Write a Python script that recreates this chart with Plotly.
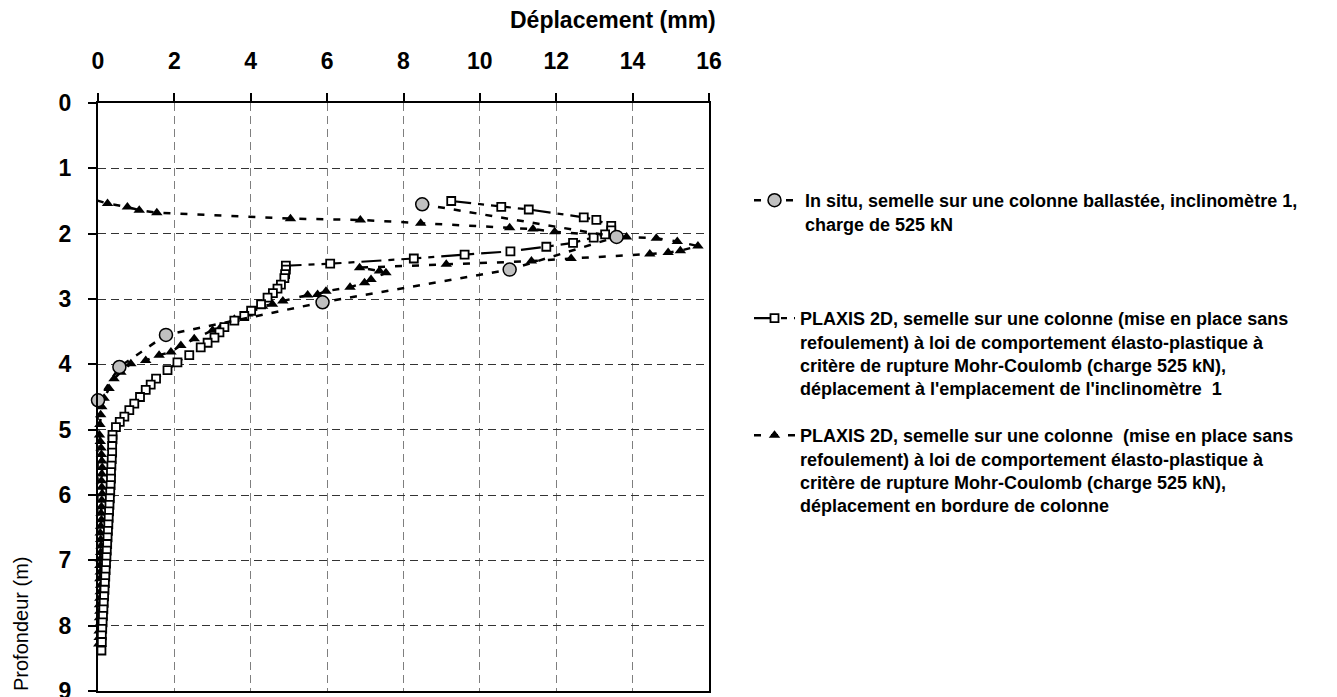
import plotly.graph_objects as go

# In situ, inclinomètre 1 (charge 525 kN)
insitu_depth = [1.55, 2.05, 2.55, 3.05, 3.55, 4.04, 4.55, 5.05, 5.55, 6.05, 6.55, 7.05, 7.55, 8.05, 8.55]
insitu_disp = [8.49, 13.58, 10.78, 5.88, 1.78, 0.56, 0.0, -0.02, -0.01, -0.02, -0.03, -0.03, -0.03, -0.04, -0.03]

# PLAXIS 2D, emplacement de l'inclinomètre 1
sq_depth = [1.50, 1.59, 1.63, 1.75, 1.79, 1.88, 1.95, 2.01, 2.06, 2.14,
            2.20, 2.27, 2.32, 2.38, 2.46, 2.49, 2.55, 2.62, 2.68, 2.78,
            2.84, 2.91, 2.98, 3.08, 3.18, 3.26, 3.33, 3.43, 3.51, 3.59,
            3.67, 3.74, 3.86, 3.97, 4.09, 4.22, 4.31, 4.39, 4.50, 4.60,
            4.70, 4.80, 4.88, 4.96, 5.08, 5.15, 5.25, 5.35, 5.45, 5.55,
            5.65, 5.75, 5.85, 5.95, 6.05, 6.15, 6.25, 6.35, 6.45, 6.55,
            6.65, 6.75, 6.85, 6.95, 7.05, 7.15, 7.25, 7.35, 7.45, 7.55,
            7.65, 7.75, 7.85, 7.95, 8.05, 8.15, 8.25, 8.38]
sq_disp = [9.25, 10.56, 11.28, 12.72, 13.05, 13.44, 13.44, 13.28, 12.98, 12.44,
           11.74, 10.80, 9.60, 8.27, 6.08, 4.92, 4.92, 4.90, 4.88, 4.79,
           4.70, 4.58, 4.44, 4.27, 4.01, 3.83, 3.57, 3.31, 3.18, 3.05,
           2.87, 2.69, 2.39, 2.08, 1.82, 1.52, 1.38, 1.25, 1.10, 0.95,
           0.82, 0.69, 0.57, 0.47, 0.38, 0.38, 0.37, 0.37, 0.36, 0.35,
           0.34, 0.34, 0.33, 0.32, 0.31, 0.30, 0.29, 0.28, 0.27, 0.26,
           0.25, 0.24, 0.23, 0.22, 0.21, 0.20, 0.19, 0.18, 0.17, 0.16,
           0.15, 0.14, 0.13, 0.12, 0.11, 0.10, 0.10, 0.09]

# PLAXIS 2D, bordure de colonne
tri_depth = [1.49, 1.54, 1.59, 1.64, 1.68, 1.77, 1.79, 1.84, 1.91, 1.93,
             1.97, 2.05, 2.07, 2.12, 2.19, 2.26, 2.29, 2.31, 2.38, 2.42,
             2.47, 2.52, 2.57, 2.60, 2.70, 2.75, 2.82, 2.88, 2.93, 2.94,
             3.03, 3.08, 3.11, 3.23, 3.31, 3.43, 3.48, 3.61, 3.71, 3.81,
             3.86, 3.94, 3.99, 4.12, 4.22, 4.37, 4.52, 4.65, 4.77, 4.92,
             5.08, 5.18, 5.28, 5.38, 5.48, 5.58, 5.68, 5.78, 5.88, 5.98,
             6.08, 6.18, 6.28, 6.38, 6.48, 6.58, 6.68, 6.78, 6.88, 6.98,
             7.08, 7.18, 7.28, 7.38, 7.48, 7.58, 7.68, 7.78, 7.88, 7.98,
             8.08, 8.18, 8.28]
tri_disp = [-0.03, 0.25, 0.77, 1.08, 1.54, 5.04, 6.87, 8.45, 10.78, 11.39,
            11.96, 13.84, 14.62, 15.17, 15.71, 15.25, 14.93, 14.45, 12.39, 11.35,
            9.12, 6.85, 7.37, 7.54, 7.15, 6.98, 6.60, 5.97, 5.75, 5.49,
            4.84, 4.57, 4.31, 3.92, 3.57, 3.22, 3.00, 2.52, 2.17, 1.91,
            1.60, 1.25, 0.86, 0.60, 0.42, 0.29, 0.16, 0.10, 0.07, 0.05,
            0.04, 0.06, 0.08, 0.09, 0.10, 0.11, 0.10, 0.09, 0.10, 0.11,
            0.10, 0.09, 0.08, 0.09, 0.07, 0.06, 0.07, 0.08, 0.07, 0.06,
            0.05, 0.06, 0.05, 0.07, 0.06, 0.05, 0.04, 0.05, 0.04, 0.04,
            0.03, 0.03, 0.02]

name_insitu = ("\u00a0In situ, semelle sur une colonne ballastée, inclinomètre 1,<br>"
               "\u00a0charge de 525 kN")
name_sq = ("PLAXIS 2D, semelle sur une colonne (mise en place sans<br>"
           "refoulement) à loi de comportement élasto-plastique à<br>"
           "critère de rupture Mohr-Coulomb (charge 525 kN),<br>"
           "déplacement à l'emplacement de l'inclinomètre  1")
name_tri = ("PLAXIS 2D, semelle sur une colonne  (mise en place sans<br>"
            "refoulement) à loi de comportement élasto-plastique à<br>"
            "critère de rupture Mohr-Coulomb (charge 525 kN),<br>"
            "déplacement en bordure de colonne")

W, H = 1337, 697
ML, MR, MT, MB = 90, 636, 95, 14
PW, PH = W - ML - MR, H - MT - MB

fig = go.Figure()
fig.add_trace(go.Scatter(
    x=tri_disp, y=tri_depth, name=name_tri, mode='lines+markers',
    line=dict(color='black', width=2.5, dash='7px,10px'),
    marker=dict(symbol='triangle-up', size=10, color='black'),
    legend='legend3', showlegend=True, cliponaxis=False,
))
fig.add_trace(go.Scatter(
    x=sq_disp, y=sq_depth, name=name_sq, mode='lines+markers',
    line=dict(color='black', width=2.2, dash='20px,7px,6px,7px'),
    marker=dict(symbol='square', size=8, color='white', line=dict(color='black', width=1.8)),
    legend='legend2', showlegend=True, cliponaxis=False,
))
fig.add_trace(go.Scatter(
    x=insitu_disp, y=insitu_depth, name=name_insitu, mode='lines+markers',
    line=dict(color='black', width=2.5, dash='7px,9px'),
    marker=dict(symbol='circle', size=13, color='#c0c0c0', line=dict(color='black', width=1.5)),
    legend='legend', showlegend=True, cliponaxis=False,
))

legend_font = dict(family='Arial, Liberation Sans, sans-serif', size=18, color='black', weight='bold')
def legend_at(py):
    return dict(
        visible=True,
        xref='container', yref='container',
        x=741 / W, y=1 - (py - 26) / H,
        xanchor='left', yanchor='top',
        itemwidth=41, valign='top',
        font=legend_font, bgcolor='rgba(0,0,0,0)', borderwidth=0,
    )

tickfont = dict(family='Arial, Liberation Sans, sans-serif', size=23, color='black', weight='bold')
axis_common = dict(
    showline=True, linecolor='black', linewidth=2, mirror=True,
    ticks='outside', ticklen=8, tickcolor='black', tickwidth=1.5,
    tickfont=tickfont, zeroline=False, showgrid=True, gridwidth=1,
    griddash='8px,5px', ticklabeloverflow='allow', automargin=False,
)

fig.update_layout(
    width=W, height=H,
    showlegend=True,
    margin=dict(l=ML, r=MR, t=MT, b=MB),
    paper_bgcolor='white', plot_bgcolor='white',
    xaxis=dict(range=[0, 16], dtick=2, tick0=0, side='top', gridcolor='#7f7f7f',
               ticklabelstandoff=15, **axis_common),
    yaxis=dict(range=[9, 0], dtick=1, tick0=0, gridcolor='#333333',
               ticklabelstandoff=12, **axis_common),
    legend=legend_at(200),
    legend2=legend_at(318),
    legend3=legend_at(435),
    annotations=[
        dict(text='<b>Déplacement (mm)</b>', xref='paper', yref='paper',
             x=(710 - ML) / PW, y=(H - MB - 12) / PH,
             xanchor='right', yanchor='middle', showarrow=False,
             font=dict(family='Arial, Liberation Sans, sans-serif', size=23, color='black')),
        dict(text='Profondeur (m)', xref='paper', yref='paper',
             x=(13 - ML) / PW, y=(H - MB - 616) / PH,
             xanchor='center', yanchor='middle', textangle=-90, showarrow=False,
             font=dict(family='Arial, Liberation Sans, sans-serif', size=20, color='black')),
    ],
)

fig.write_html("out.html")
